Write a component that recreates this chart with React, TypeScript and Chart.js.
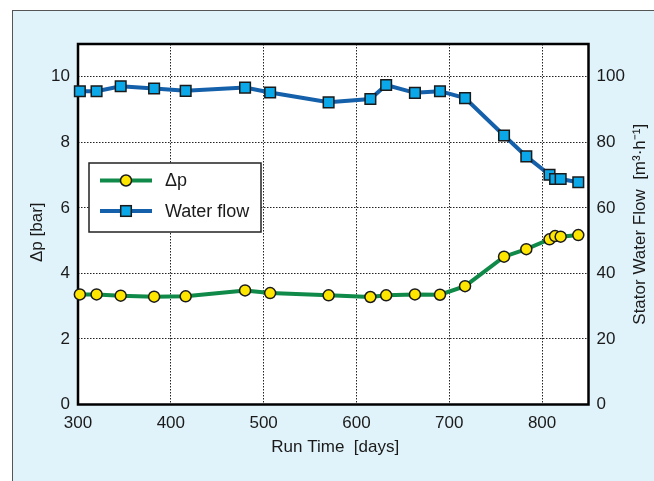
import React, { useEffect, useRef } from "react";
import { Chart, registerables } from "chart.js";

Chart.register(...registerables);

const days = [302, 320, 346, 382, 416, 480, 507, 570, 615, 632, 663, 690, 717, 759, 783, 808, 814, 820, 839];
const deltaP = [3.36, 3.36, 3.32, 3.29, 3.3, 3.48, 3.4, 3.33, 3.28, 3.33, 3.36, 3.35, 3.61, 4.51, 4.74, 5.04, 5.14, 5.12, 5.17];
const waterFlow = [95.6, 95.6, 97.1, 96.4, 95.7, 96.7, 95.2, 92.2, 93.2, 97.5, 95.1, 95.6, 93.5, 82.1, 75.7, 70.1, 68.8, 68.8, 67.8];

const xTicks = [300, 400, 500, 600, 700, 800];
const leftTicks = [0, 2, 4, 6, 8, 10];
const rightTicks = [0, 20, 40, 60, 80, 100];

const seriesNames = ["\u0394p", "Water flow"];
const xTitle = "Run Time  [days]";
const leftTitle = "\u0394p [bar]";
const rightTitle = "Stator Water Flow  [m\u00B3\u00B7h\u207B\u00B9]";

const FONT = "'Liberation Sans', Arial, sans-serif";
const TEXT = "#1a1a1a";
const GREEN = "#108a48";
const YELLOW = "#ffe600";
const BLUE = "#1560aa";
const CYAN = "#0aa8e8";
const EDGE = "#1a1a1a";

const framePlugin = {
  id: "framePlugin",
  beforeDraw(chart: any) {
    const { ctx, chartArea: a } = chart;
    ctx.save();
    ctx.fillStyle = "#ffffff";
    ctx.fillRect(a.left, a.top, a.right - a.left, a.bottom - a.top);
    ctx.restore();
  },
  beforeDatasetsDraw(chart: any) {
    const { ctx, chartArea: a } = chart;
    ctx.save();
    ctx.strokeStyle = "#000";
    ctx.lineWidth = 2.5;
    ctx.strokeRect(a.left, a.top, a.right - a.left, a.bottom - a.top);
    ctx.restore();
  },
  afterDraw(chart: any) {
    const { ctx, chartArea: a } = chart;
    ctx.save();
    // legend
    const bx = a.left + 11;
    const by = a.top + 119;
    const bw = 172;
    const bh = 69;
    ctx.fillStyle = "#fff";
    ctx.fillRect(bx, by, bw, bh);
    ctx.strokeStyle = "#222";
    ctx.lineWidth = 1.5;
    ctx.strokeRect(bx, by, bw, bh);
    const rows = [
      { y: by + 17.5, line: GREEN, fill: YELLOW, style: "circle" },
      { y: by + 48, line: BLUE, fill: CYAN, style: "rect" },
    ];
    rows.forEach((r, i) => {
      ctx.strokeStyle = r.line;
      ctx.lineWidth = 4;
      ctx.beginPath();
      ctx.moveTo(bx + 11, r.y);
      ctx.lineTo(bx + 63, r.y);
      ctx.stroke();
      ctx.fillStyle = r.fill;
      ctx.strokeStyle = EDGE;
      ctx.lineWidth = 1.5;
      const cx = bx + 37;
      if (r.style === "circle") {
        ctx.beginPath();
        ctx.arc(cx, r.y, 5.5, 0, Math.PI * 2);
        ctx.fill();
        ctx.stroke();
      } else {
        ctx.fillRect(cx - 5.3, r.y - 5.3, 10.6, 10.6);
        ctx.strokeRect(cx - 5.3, r.y - 5.3, 10.6, 10.6);
      }
      ctx.fillStyle = TEXT;
      ctx.font = `18px ${FONT}`;
      ctx.textAlign = "left";
      ctx.textBaseline = "middle";
      ctx.fillText(seriesNames[i], bx + 76, r.y + 1);
    });
    // axis titles
    ctx.fillStyle = TEXT;
    ctx.font = `17px ${FONT}`;
    ctx.textAlign = "center";
    ctx.textBaseline = "middle";
    ctx.fillText(xTitle, (a.left + a.right) / 2 + 2, a.bottom + 43);
    ctx.save();
    ctx.translate(37, (a.top + a.bottom) / 2 + 8);
    ctx.rotate(-Math.PI / 2);
    ctx.fillText(leftTitle, 0, 0);
    ctx.restore();
    ctx.save();
    ctx.translate(a.right + 52, (a.top + a.bottom) / 2);
    ctx.rotate(-Math.PI / 2);
    ctx.fillText(rightTitle, 0, 0);
    ctx.restore();
    ctx.restore();
  },
};

export default function App() {
  const ref = useRef<HTMLCanvasElement | null>(null);

  useEffect(() => {
    if (!ref.current) return;
    const chart = new Chart(ref.current, {
      type: "line",
      data: {
        datasets: [
          {
            label: seriesNames[0],
            data: days.map((d, i) => ({ x: d, y: deltaP[i] })),
            yAxisID: "y",
            borderColor: GREEN,
            borderWidth: 4,
            pointStyle: "circle",
            pointRadius: 5.5,
            pointBackgroundColor: YELLOW,
            pointBorderColor: EDGE,
            pointBorderWidth: 1.5,
            tension: 0,
            clip: false,
          },
          {
            label: seriesNames[1],
            data: days.map((d, i) => ({ x: d, y: waterFlow[i] })),
            yAxisID: "y1",
            borderColor: BLUE,
            borderWidth: 4,
            pointStyle: "rect",
            pointRadius: 7.5,
            pointBackgroundColor: CYAN,
            pointBorderColor: EDGE,
            pointBorderWidth: 1.5,
            tension: 0,
            clip: false,
          },
        ],
      },
      options: {
        animation: false,
        responsive: false,
        devicePixelRatio: 1,
        layout: { padding: { top: 44, left: 0, right: 0, bottom: 0 } },
        plugins: { legend: { display: false }, tooltip: { enabled: false } },
        scales: {
          x: {
            type: "linear",
            min: 300,
            max: 850,
            afterBuildTicks: (s: any) => {
              s.ticks = xTicks.map((v) => ({ value: v }));
            },
            afterFit: (s: any) => {
              s.height = 76.5;
            },
            grid: { color: "#222", lineWidth: 1, drawTicks: false },
            border: { display: false, dash: [1.5, 1.5] },
            ticks: {
              padding: 9,
              color: TEXT,
              font: { family: FONT, size: 17 },
              maxRotation: 0,
              autoSkip: false,
            },
          },
          y: {
            type: "linear",
            position: "left",
            min: 0,
            max: 11,
            afterBuildTicks: (s: any) => {
              s.ticks = leftTicks.map((v) => ({ value: v }));
            },
            afterFit: (s: any) => {
              s.width = 78;
            },
            grid: { color: "#222", lineWidth: 1, drawTicks: false },
            border: { display: false, dash: [1.5, 1.5] },
            ticks: { padding: 8, color: TEXT, font: { family: FONT, size: 17 } },
          },
          y1: {
            type: "linear",
            position: "right",
            min: 0,
            max: 110,
            afterBuildTicks: (s: any) => {
              s.ticks = rightTicks.map((v) => ({ value: v }));
            },
            afterFit: (s: any) => {
              s.width = 65.5;
            },
            grid: { drawOnChartArea: false, drawTicks: false },
            border: { display: false },
            ticks: { padding: 8, color: TEXT, font: { family: FONT, size: 17 } },
          },
        },
      },
      plugins: [framePlugin],
    });
    return () => chart.destroy();
  }, []);

  return (
    <div style={{ position: "fixed", left: 0, top: 0, width: 654, height: 481, background: "#fff" }}>
      <div
        style={{
          position: "absolute",
          left: 12,
          top: 10,
          right: 0,
          bottom: 0,
          background: "#e0f2fa",
          borderLeft: "1px solid #555",
          borderTop: "1px solid #555",
        }}
      />
      <canvas ref={ref} width={654} height={481} style={{ position: "absolute", left: 0, top: 0 }} />
    </div>
  );
}
